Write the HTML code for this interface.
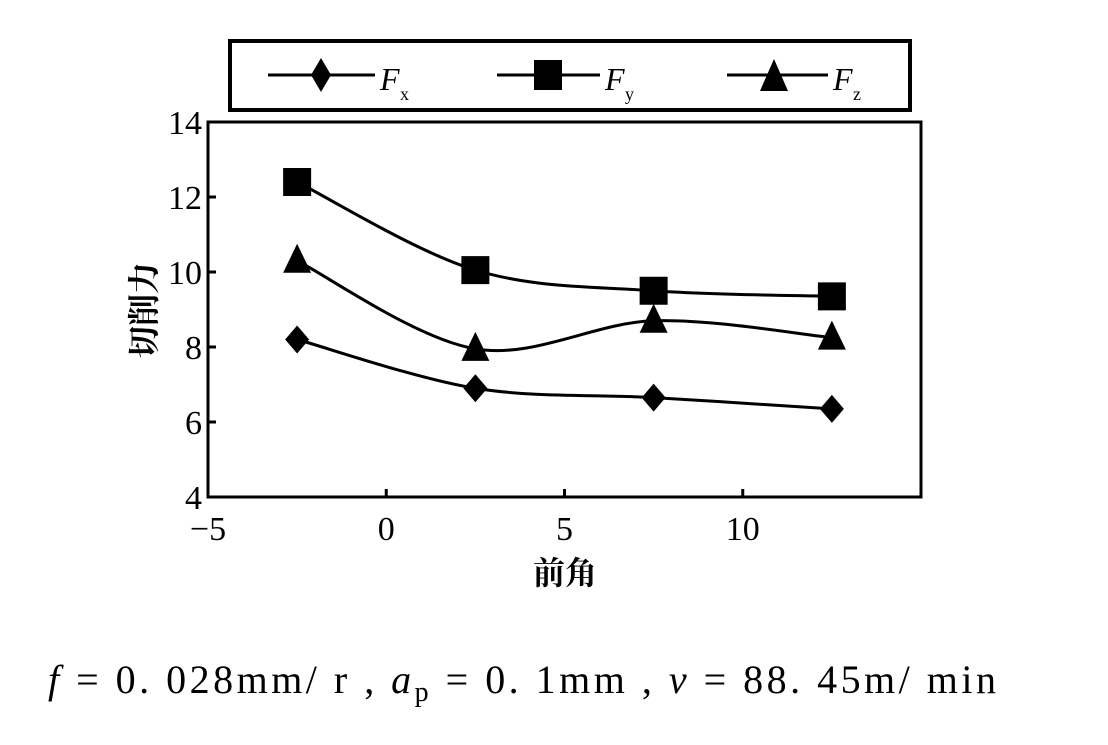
<!DOCTYPE html>
<html><head><meta charset="utf-8"><style>
body{margin:0;background:#fff;}
svg text{font-family:"Liberation Serif","Noto Serif CJK SC",serif;}
</style></head><body>
<svg width="1108" height="740" xmlns="http://www.w3.org/2000/svg">
<g>
<rect x="230" y="41" width="680" height="69" fill="none" stroke="#000" stroke-width="4"/>
<line x1="268" y1="75" x2="375" y2="75" stroke="#000" stroke-width="3"/>
<path d="M321 58 L331 75 L321 92 L311 75Z" fill="#000"/>
<text x="380" y="90" font-size="32" font-style="italic">F</text><text x="400" y="100" font-size="18">x</text>
<line x1="497" y1="75" x2="600" y2="75" stroke="#000" stroke-width="3"/>
<rect x="534" y="60" width="28" height="30" fill="#000"/>
<text x="605" y="90" font-size="32" font-style="italic">F</text><text x="625" y="100" font-size="18">y</text>
<line x1="727" y1="75" x2="828" y2="75" stroke="#000" stroke-width="3"/>
<path d="M774 59 L788 91 L760 91Z" fill="#000"/>
<text x="833" y="90" font-size="32" font-style="italic">F</text><text x="853" y="100" font-size="18">z</text>
</g>
<rect x="208" y="122" width="713" height="375" fill="none" stroke="#000" stroke-width="3"/>
<g id="axes"></g>
<g id="series"></g>
<text transform="translate(155,310) rotate(-90)" text-anchor="middle" font-size="32" font-weight="bold" font-family="Noto Sans CJK SC,sans-serif">切削力</text>
<text x="565" y="584" text-anchor="middle" font-size="32" font-weight="bold" font-family="Noto Sans CJK SC,sans-serif">前角</text>
<text x="48" y="693" font-size="40" textLength="948" lengthAdjust="spacing"><tspan font-style="italic">f</tspan> = 0. 028mm/ r , <tspan font-style="italic">a</tspan><tspan font-size="28" dy="8">p</tspan><tspan dy="-8"> = 0. 1mm , </tspan><tspan font-style="italic">v</tspan> = 88. 45m/ min</text>
</svg>
<script>
const xCats=[-2.5,2.5,7.5,12.5];
const fx=[8.2,6.9,6.65,6.35];
const fy=[12.4,10.05,9.5,9.35];
const fz=[10.3,7.95,8.7,8.25];
const xTicks=[-5,0,5,10];
const yTicks=[4,6,8,10,12,14];
const NS="http://www.w3.org/2000/svg";
const X=v=>208+(v+5)*35.65, Y=v=>497-(v-4)*37.5;
function mk(t,a,p){const e=document.createElementNS(NS,t);for(const k in a)e.setAttribute(k,a[k]);p.appendChild(e);return e;}
const ax=document.getElementById('axes'),sr=document.getElementById('series');
xTicks.forEach(v=>{mk('line',{x1:X(v),x2:X(v),y1:497,y2:489,stroke:'#000','stroke-width':3},ax);
const t=mk('text',{x:X(v),y:540,'text-anchor':'middle','font-size':34},ax);t.textContent=v<0?'\u2212'+(-v):v;

});
yTicks.forEach(v=>{mk('line',{x1:208,x2:216,y1:Y(v),y2:Y(v),stroke:'#000','stroke-width':3},ax);
const t=mk('text',{x:202,y:Y(v)+12,'text-anchor':'end','font-size':34},ax);t.textContent=v;

});
function curve(pts){let d='M'+pts[0][0]+' '+pts[0][1];for(let i=0;i<pts.length-1;i++){const p0=pts[i-1]||pts[i],p1=pts[i],p2=pts[i+1],p3=pts[i+2]||p2;
d+=' C'+(p1[0]+(p2[0]-p0[0])/6)+' '+(p1[1]+(p2[1]-p0[1])/6)+' '+(p2[0]-(p3[0]-p1[0])/6)+' '+(p2[1]-(p3[1]-p1[1])/6)+' '+p2[0]+' '+p2[1];}return d;}
function series(vals,name,shape){const g=mk('g',{},sr);


const pts=vals.map((v,i)=>[X(xCats[i]),Y(v)]);
mk('path',{d:curve(pts),fill:'none',stroke:'#000','stroke-width':3},g);
pts.forEach(([x,y])=>{let m;
if(shape==='d')m=mk('path',{d:`M${x} ${y-14}L${x+12} ${y}L${x} ${y+14}L${x-12} ${y}Z`,fill:'#000'},g);
else if(shape==='s')m=mk('rect',{x:x-14,y:y-14,width:28,height:28,fill:'#000'},g);
else m=mk('path',{d:`M${x} ${y-17}L${x+14} ${y+12}L${x-14} ${y+12}Z`,fill:'#000'},g);

});}
series(fx,'series-fx','d');series(fy,'series-fy','s');series(fz,'series-fz','t');
</script>
</body></html>
